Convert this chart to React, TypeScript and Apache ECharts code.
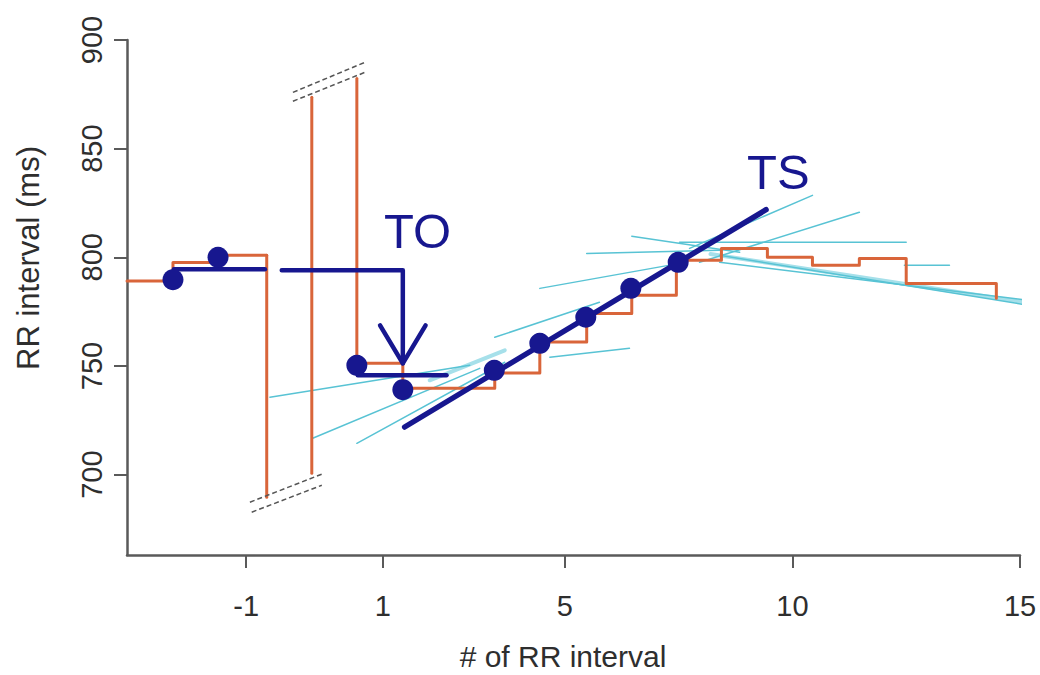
import React, { useEffect, useRef } from 'react';
import * as echarts from 'echarts';

const NAVY = '#17178f';
const ORANGE = '#d9653a';
const CYAN = '#58c3d4';
const CYAN_PALE = '#a6e0ea';
const AXIS = '#5a5a5a';
const TEXT = '#2e2e2e';
const FONT = '"Liberation Sans", Arial, sans-serif';

// x positions: continuous beat index u (beat -1 sits at u = -2, the two ectopic intervals occupy u = -1 and 0)
const xTickPositions = [-2, 1, 5, 10, 15];
const xTickLabels = ['-1', '1', '5', '10', '15'];
const yTicks = [700, 750, 800, 850, 900];

// RR tachogram (step function)
const preEdges = [-4.62, -3.61, -2.62, -1.55];
const preRR = [789.1, 797.6, 800.9];
const ectopicVerticals = [
  [-1.55, 800.9, 689.6],
  [-0.56, 700.6, 873.6],
  [0.43, 882.3, 751.2],
];
const postEdges = [0.43, 1.44, 3.46, 4.45, 5.48, 6.47, 7.45, 8.44, 9.45, 10.44, 11.47, 12.5, 14.48];
const postRR = [751.2, 739.7, 746.8, 761.0, 774.1, 782.5, 798.6, 804.1, 800.0, 796.3, 799.5, 788.0];
const lastRR = 781.1;

// axis break marks [u1, v1, u2, v2]
const breakMarks = [
  [-1.92, 687.3, -0.34, 700.2],
  [-1.88, 682.7, -0.34, 695.1],
  [-0.975, 875.9, 0.605, 889.7],
  [-0.975, 871.8, 0.605, 885.1],
];

// beat markers
const dotU = [-3.61, -2.62, 0.43, 1.44, 3.45, 4.45, 5.46, 6.45, 7.49];
const dotRR = [789.7, 800.0, 750.3, 739.1, 748.0, 760.4, 772.4, 785.7, 797.7];

// local regression lines [u1, v1, u2, v2]
const localFits = [
  [-1.48, 735.6, 2.91, 750.3],
  [-0.54, 716.7, 3.13, 748.9],
  [0.43, 714.4, 3.68, 751.7],
  [3.46, 763.2, 5.76, 779.3],
  [4.45, 785.7, 7.52, 797.2],
  [5.48, 801.8, 8.4, 803.2],
  [6.47, 809.7, 8.84, 802.3],
  [4.67, 754.0, 6.42, 758.1],
  [7.74, 804.1, 10.44, 828.5],
  [7.96, 797.7, 11.47, 820.7],
  [7.52, 806.9, 12.5, 806.9],
  [12.46, 796.3, 13.45, 796.3],
  [8.4, 797.7, 15.2, 780.2],
  [8.4, 800.9, 15.2, 777.9],
];
const paleFits = [
  [2.03, 743.4, 3.68, 757.2],
  [8.2, 801.5, 15.2, 779.0],
];

// turbulence onset / slope annotations
const baselinePre = [[-3.59, 794.5], [-1.59, 794.5]];
const baselineTO = [[-1.22, 794.0], [1.44, 794.0], [1.44, 751.2]];
const arrowHead = [[0.94, 768.7], [1.44, 751.2], [1.94, 768.7]];
const postMean = [[0.45, 745.7], [2.4, 745.7]];
const tsLine = [[1.48, 721.9], [9.42, 821.9]];

function stepPath(edges: number[], vals: number[]): number[][] {
  const pts: number[][] = [];
  for (let i = 0; i < vals.length; i++) {
    pts.push([edges[i], vals[i]]);
    pts.push([edges[i + 1], vals[i]]);
  }
  return pts;
}

function lineSeries(data: number[][], color: string, width: number, z: number, extra: any = {}) {
  return {
    type: 'line',
    data,
    symbol: 'none',
    showSymbol: false,
    silent: true,
    clip: false,
    z,
    lineStyle: { color, width, join: 'round', cap: 'round', ...extra },
  };
}

export default function App() {
  const ref = useRef<HTMLDivElement>(null);
  useEffect(() => {
    const chart = echarts.init(ref.current!, null, { renderer: 'svg' });

    const series: any[] = [];
    paleFits.forEach((s) => series.push(lineSeries([[s[0], s[1]], [s[2], s[3]]], CYAN_PALE, 4, 1)));
    localFits.forEach((s) => series.push(lineSeries([[s[0], s[1]], [s[2], s[3]]], CYAN, 1.5, 2)));

    const pre = stepPath(preEdges, preRR);
    series.push(lineSeries(pre, ORANGE, 3, 3));
    ectopicVerticals.forEach((v) => series.push(lineSeries([[v[0], v[1]], [v[0], v[2]]], ORANGE, 3, 3)));
    const post = stepPath(postEdges, postRR);
    post.push([postEdges[postEdges.length - 1], lastRR]);
    series.push(lineSeries(post, ORANGE, 3, 3));

    breakMarks.forEach((b) =>
      series.push(lineSeries([[b[0], b[1]], [b[2], b[3]]], '#555555', 1.5, 3, { type: [5, 3], cap: 'butt' }))
    );

    series.push(lineSeries(baselinePre, NAVY, 4.5, 4));
    series.push(lineSeries(baselineTO, NAVY, 4.5, 4));
    series.push(lineSeries(arrowHead, NAVY, 4.5, 4));
    series.push(lineSeries(postMean, NAVY, 4.5, 4));
    series.push(lineSeries(tsLine, NAVY, 5.5, 4));

    series.push({
      type: 'scatter',
      data: dotU.map((u, i) => [u, dotRR[i]]),
      symbol: 'circle',
      symbolSize: 21,
      silent: true,
      z: 5,
      itemStyle: { color: NAVY, opacity: 1 },
    });

    chart.setOption({
      animation: false,
      backgroundColor: '#ffffff',
      grid: { left: 127, right: 20, top: 40, bottom: 120, containLabel: false },
      xAxis: {
        type: 'value',
        min: -4.62,
        max: 15,
        splitLine: { show: false },
        axisLine: { show: true, onZero: false, lineStyle: { color: AXIS, width: 2.5 } },
        axisTick: { show: true, customValues: xTickPositions, length: 13, lineStyle: { color: AXIS, width: 2 } },
        axisLabel: {
          customValues: xTickPositions,
          formatter: (v: number) => {
            const i = xTickPositions.indexOf(v);
            return i >= 0 ? xTickLabels[i] : '';
          },
          fontSize: 29,
          fontFamily: FONT,
          color: TEXT,
          margin: 36,
        },
      },
      yAxis: {
        type: 'value',
        min: 663,
        max: 900,
        splitLine: { show: false },
        axisLine: { show: true, onZero: false, lineStyle: { color: AXIS, width: 2.5 } },
        axisTick: { show: true, customValues: yTicks, length: 13, lineStyle: { color: AXIS, width: 2 } },
        axisLabel: {
          customValues: yTicks,
          rotate: 90,
          fontSize: 29,
          fontFamily: FONT,
          color: TEXT,
          margin: 21,
        },
      },
      graphic: [
        {
          type: 'text',
          x: 563,
          y: 656,
          silent: true,
          style: { text: '# of RR interval', fontSize: 30, fontFamily: FONT, fill: TEXT, align: 'center', verticalAlign: 'middle' },
        },
        {
          type: 'text',
          x: 28,
          y: 258,
          rotation: Math.PI / 2,
          silent: true,
          style: { text: 'RR interval (ms)', fontSize: 31, fontFamily: FONT, fill: TEXT, align: 'center', verticalAlign: 'middle' },
        },
        {
          type: 'text',
          x: 384,
          y: 231,
          silent: true,
          z: 10,
          style: { text: 'TO', fontSize: 49, fontFamily: FONT, fill: NAVY, align: 'left', verticalAlign: 'middle' },
        },
        {
          type: 'text',
          x: 747,
          y: 172,
          silent: true,
          z: 10,
          style: { text: 'TS', fontSize: 49, fontFamily: FONT, fill: NAVY, align: 'left', verticalAlign: 'middle' },
        },
      ],
      series,
    });
    return () => chart.dispose();
  }, []);
  return (
    <div
      ref={ref}
      style={{ position: 'fixed', left: 0, top: 0, width: 1040, height: 675, background: '#ffffff' }}
    />
  );
}
